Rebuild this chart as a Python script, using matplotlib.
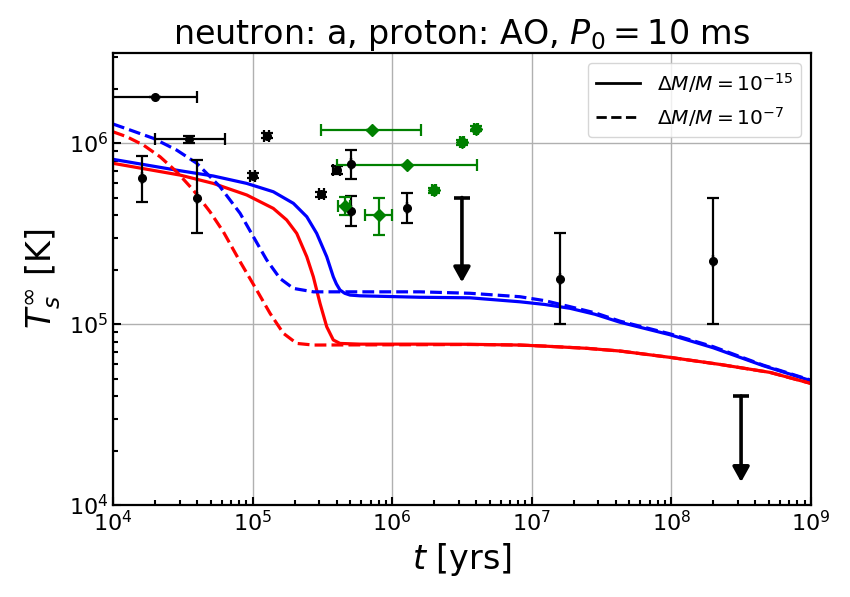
import numpy as np
import matplotlib
matplotlib.use("Agg")
import matplotlib.pyplot as plt

# ---------------- data ----------------
# cooling curves: log10(t [yr]) and log10(T [K])
blue_solid_logt = [4.0, 4.48, 4.718, 4.958, 5.148, 5.292, 5.388, 5.459, 5.531, 5.578, 5.60, 5.626, 5.66, 5.698, 5.769,
                   6.199, 6.557, 6.915, 7.095, 7.274, 7.453, 7.632, 7.990, 8.30, 8.658, 9.0]
blue_solid_logT = [5.91, 5.847, 5.818, 5.777, 5.731, 5.667, 5.593, 5.501, 5.372, 5.261, 5.222, 5.188, 5.170, 5.160, 5.156,
                   5.148, 5.145, 5.123, 5.108, 5.087, 5.054, 5.010, 4.941, 4.869, 4.770, 4.687]

red_solid_logt = [4.0, 4.48, 4.718, 4.958, 5.148, 5.244, 5.316, 5.388, 5.435, 5.483, 5.531, 5.578, 5.626, 5.769,
                  6.199, 6.557, 6.915, 7.095, 7.393, 7.632, 7.99, 8.348, 8.706, 9.0]
red_solid_logT = [5.888, 5.823, 5.777, 5.713, 5.639, 5.575, 5.501, 5.372, 5.261, 5.114, 4.985, 4.912, 4.893, 4.889,
                  4.889, 4.888, 4.884, 4.878, 4.866, 4.851, 4.816, 4.777, 4.733, 4.672]

blue_dash_logt = [4.0, 4.122, 4.289, 4.456, 4.600, 4.766, 4.910, 5.005, 5.101, 5.196, 5.292, 5.435, 5.769,
                  6.199, 6.557, 6.915, 7.095, 7.274, 7.453, 7.632, 7.990, 8.30, 8.658, 9.0]
blue_dash_logT = [6.105, 6.072, 6.026, 5.961, 5.888, 5.759, 5.612, 5.483, 5.354, 5.252, 5.197, 5.178, 5.178,
                  5.178, 5.170, 5.151, 5.129, 5.096, 5.062, 5.016, 4.946, 4.875, 4.773, 4.690]

red_dash_logt = [4.0, 4.098, 4.217, 4.337, 4.456, 4.575, 4.695, 4.790, 4.910, 5.029, 5.125, 5.220, 5.316, 5.435,
                 6.199, 6.557, 6.915, 7.095, 7.393, 7.632, 7.99, 8.348, 8.706, 9.0]
red_dash_logT = [6.062, 6.035, 5.989, 5.924, 5.841, 5.740, 5.620, 5.510, 5.345, 5.188, 5.059, 4.949, 4.893, 4.884,
                 4.886, 4.887, 4.884, 4.878, 4.866, 4.851, 4.816, 4.777, 4.733, 4.672]

# black observations: t, T, t_low, t_high, T_low, T_high
blk_t    = [2.0e4, 3.5e4, 1.26e5, 1.6e4, 4.0e4, 1.0e5, 3.1e5, 4.0e5, 5.1e5, 5.1e5, 1.28e6, 1.6e7, 2.0e8]
blk_T    = [1.8e6, 1.05e6, 1.1e6, 6.4e5, 5.0e5, 6.6e5, 5.2e5, 7.1e5, 7.7e5, 4.2e5, 4.4e5, 1.77e5, 2.24e5]
blk_tlo  = [5.0e3, 2.0e4, 1.21e5, 1.6e4, 4.0e4, 0.96e5, 2.98e5, 3.75e5, 5.1e5, 5.1e5, 1.28e6, 1.6e7, 2.0e8]
blk_thi  = [4.0e4, 6.3e4, 1.31e5, 1.6e4, 4.0e4, 1.04e5, 3.22e5, 4.25e5, 5.1e5, 5.1e5, 1.28e6, 1.6e7, 2.0e8]
blk_Tlo  = [1.8e6, 1.0e6, 1.07e6, 4.7e5, 3.2e5, 6.4e5, 5.05e5, 6.75e5, 6.3e5, 3.5e5, 3.6e5, 1.0e5, 1.0e5]
blk_Thi  = [1.8e6, 1.09e6, 1.13e6, 8.5e5, 8.1e5, 6.8e5, 5.35e5, 7.45e5, 9.2e5, 5.1e5, 5.3e5, 3.2e5, 5.0e5]

# upper limits: t, T_upper, arrow tip
lim_t   = [3.16e6, 3.16e8]
lim_T   = [5.0e5, 4.0e4]
lim_tip = [1.7e5, 1.34e4]

# green observations: t, T, t_low, t_high, T_low, T_high
grn_t   = [7.2e5, 1.28e6, 3.16e6, 4.0e6, 2.0e6, 4.6e5, 8.0e5]
grn_T   = [1.18e6, 7.6e5, 1.01e6, 1.2e6, 5.5e5, 4.5e5, 4.0e5]
grn_tlo = [3.1e5, 4.0e5, 3.05e6, 3.87e6, 1.93e6, 4.1e5, 6.4e5]
grn_thi = [1.6e6, 4.05e6, 3.27e6, 4.13e6, 2.07e6, 5.0e5, 1.0e6]
grn_Tlo = [1.18e6, 7.6e5, 0.98e6, 1.16e6, 5.33e5, 4.0e5, 3.1e5]
grn_Thi = [1.18e6, 7.6e5, 1.04e6, 1.24e6, 5.67e5, 5.05e5, 5.0e5]

legend_labels = [r"$\Delta M/M = 10^{-15}$", r"$\Delta M/M = 10^{-7}$"]

# ---------------- plot ----------------
fig = plt.figure(figsize=(8.5, 5.97), dpi=100)
ax = fig.add_axes([0.133, 0.154, 0.821, 0.758])

ax.plot(10 ** np.array(blue_solid_logt), 10 ** np.array(blue_solid_logT), color="blue", lw=2.3, ls="-")
ax.plot(10 ** np.array(red_solid_logt), 10 ** np.array(red_solid_logT), color="red", lw=2.3, ls="-")
ax.plot(10 ** np.array(blue_dash_logt), 10 ** np.array(blue_dash_logT), color="blue", lw=2.3, ls="--")
ax.plot(10 ** np.array(red_dash_logt), 10 ** np.array(red_dash_logT), color="red", lw=2.3, ls="--")

bt = np.array(blk_t); bT = np.array(blk_T)
ax.errorbar(bt, bT,
            xerr=[bt - np.array(blk_tlo), np.array(blk_thi) - bt],
            yerr=[bT - np.array(blk_Tlo), np.array(blk_Thi) - bT],
            fmt="o", color="black", ms=5.5, elinewidth=1.6, capsize=4, capthick=1.6, zorder=5)

gt = np.array(grn_t); gT = np.array(grn_T)
ax.errorbar(gt, gT,
            xerr=[gt - np.array(grn_tlo), np.array(grn_thi) - gt],
            yerr=[gT - np.array(grn_Tlo), np.array(grn_Thi) - gT],
            fmt="D", color="green", ms=6, elinewidth=1.6, capsize=4, capthick=1.6, zorder=5)

for t, T, tip in zip(lim_t, lim_T, lim_tip):
    ax.annotate("", xy=(t, tip), xytext=(t, T),
                arrowprops=dict(arrowstyle="-|>,head_width=0.5,head_length=0.9", lw=2.6,
                                color="black", shrinkA=0, shrinkB=0, mutation_scale=10), zorder=6)
    ax.plot([t], [T], marker="_", ms=11, mew=2.6, color="black", zorder=6)

ax.set_xscale("log")
ax.set_yscale("log")
ax.set_xlim(1e4, 1e9)
ax.set_ylim(1e4, 10 ** 6.5)
ax.grid(True, which="major", color="#b0b0b0", lw=1.0)
ax.set_axisbelow(True)

ax.tick_params(which="both", direction="in", labelsize=16, width=1.5)
ax.tick_params(which="major", length=6)
ax.tick_params(which="minor", length=3.5)
for s in ax.spines.values():
    s.set_linewidth(1.6)

ax.set_xlabel(r"$t$ [yrs]", fontsize=24)
ax.set_ylabel(r"$T_s^{\infty}$ [K]", fontsize=24)
ax.set_title(r"neutron: a, proton: AO, $P_0 = 10$ ms", fontsize=24)

h1, = ax.plot([], [], color="black", lw=2, ls="-")
h2, = ax.plot([], [], color="black", lw=2, ls="--")
ax.legend([h1, h2], legend_labels, loc="upper right", fontsize=14.5, handlelength=2.2)

fig.savefig("out.png", dpi=100)
